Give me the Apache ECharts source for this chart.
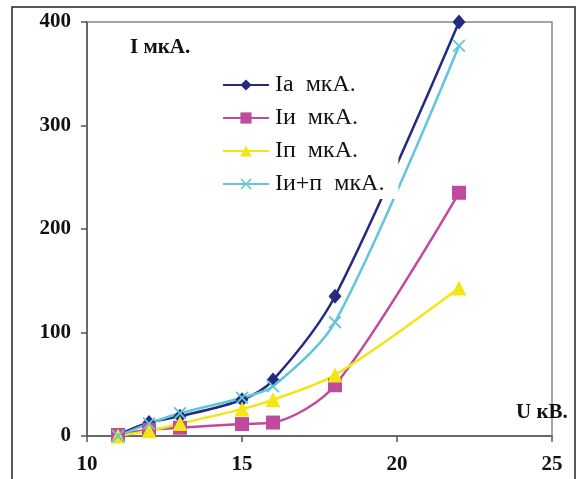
<!DOCTYPE html>
<html><head><meta charset="utf-8">
<script src="https://cdn.jsdelivr.net/npm/echarts@6/dist/echarts.min.js"></script>
<style>html,body{margin:0;padding:0;background:#fff}#c{width:577px;height:479px}</style>
</head><body><div id="c"></div>
<script>
const voltage = [11, 12, 13, 15, 16, 18, 22];
const Ia = [1, 13, 19, 35, 54, 135, 400];
const Iu = [1, 6, 8, 11.5, 13, 49, 235];
const Ip = [0, 5, 12, 26, 35, 59, 143];
const Iup = [0, 12, 22, 37, 48, 110, 377];
const seriesNames = ['Ia  мкА.', 'Iи  мкА.', 'Iп  мкА.', 'Iи+п  мкА.'];
const xTicks = [10, 15, 20, 25];
const yTicks = [0, 100, 200, 300, 400];

const pair = arr => voltage.map((v, i) => [v, arr[i]]);
const font = 'Liberation Serif, Times New Roman, serif';
const xSym = 'path://M0,1L1,0L5,4L9,0L10,1L6,5L10,9L9,10L5,6L1,10L0,9L4,5Z';

const mk = (name, data, color, symbol, size) => ({
  name, type: 'line', data: pair(data), smooth: 0.3,
  symbol, symbolSize: size, showSymbol: true,
  lineStyle: { color, width: 2.5 },
  itemStyle: { color },
  emphasis: { disabled: true }
});

const chart = echarts.init(document.getElementById('c'), null, { renderer: 'canvas' });
chart.setOption({
  animation: false,
  grid: { left: 87, right: 25, top: 22, bottom: 43, show: true, borderColor: '#888', borderWidth: 1.5, backgroundColor: 'transparent' },
  xAxis: {
    type: 'value', min: xTicks[0], max: xTicks[xTicks.length - 1], interval: 5,
    splitLine: { show: false },
    axisLine: { lineStyle: { color: '#555', width: 1.5 } },
    axisTick: { show: true, length: 6, lineStyle: { color: '#555', width: 1.5 } },
    axisLabel: { fontFamily: font, fontWeight: 'bold', fontSize: 21, color: '#111', margin: 18 }
  },
  yAxis: {
    type: 'value', min: yTicks[0], max: yTicks[yTicks.length - 1], interval: 100,
    splitLine: { show: false },
    axisLine: { show: true, lineStyle: { color: '#555', width: 1.5 } },
    axisTick: { show: true, length: 6, lineStyle: { color: '#555', width: 1.5 } },
    axisLabel: { fontFamily: font, fontWeight: 'bold', fontSize: 21, color: '#111', margin: 16, padding: [3, 0, 0, 0] }
  },
  legend: {
    orient: 'vertical', left: 213, top: 67,
    backgroundColor: '#fff',
    padding: [6, 14, 3, 9],
    itemWidth: 46, itemHeight: 14, itemGap: 9,
    textStyle: { fontFamily: font, fontSize: 24, color: '#111', lineHeight: 24, padding: [0, 0, 0, 1] },
    data: seriesNames
  },
  graphic: [
    { type: 'rect', shape: { x: 12, y: 7, width: 563, height: 520 }, style: { fill: 'none', stroke: '#222', lineWidth: 1.5 }, silent: true, z: -1 },
    { type: 'text', left: 130, top: 37, style: { text: 'I мкА.', font: 'bold 21px ' + font, fill: '#111' } },
    { type: 'text', left: 516, top: 402, style: { text: 'U кВ.', font: 'bold 21px ' + font, fill: '#111' } }
  ],
  series: [
    mk(seriesNames[0], Ia, '#232a80', 'diamond', [13, 15]),
    mk(seriesNames[1], Iu, '#c04a9e', 'rect', 14),
    mk(seriesNames[2], Ip, '#f2e614', 'triangle', 15),
    mk(seriesNames[3], Iup, '#62c6da', xSym, 13)
  ]
});
</script></body></html>
